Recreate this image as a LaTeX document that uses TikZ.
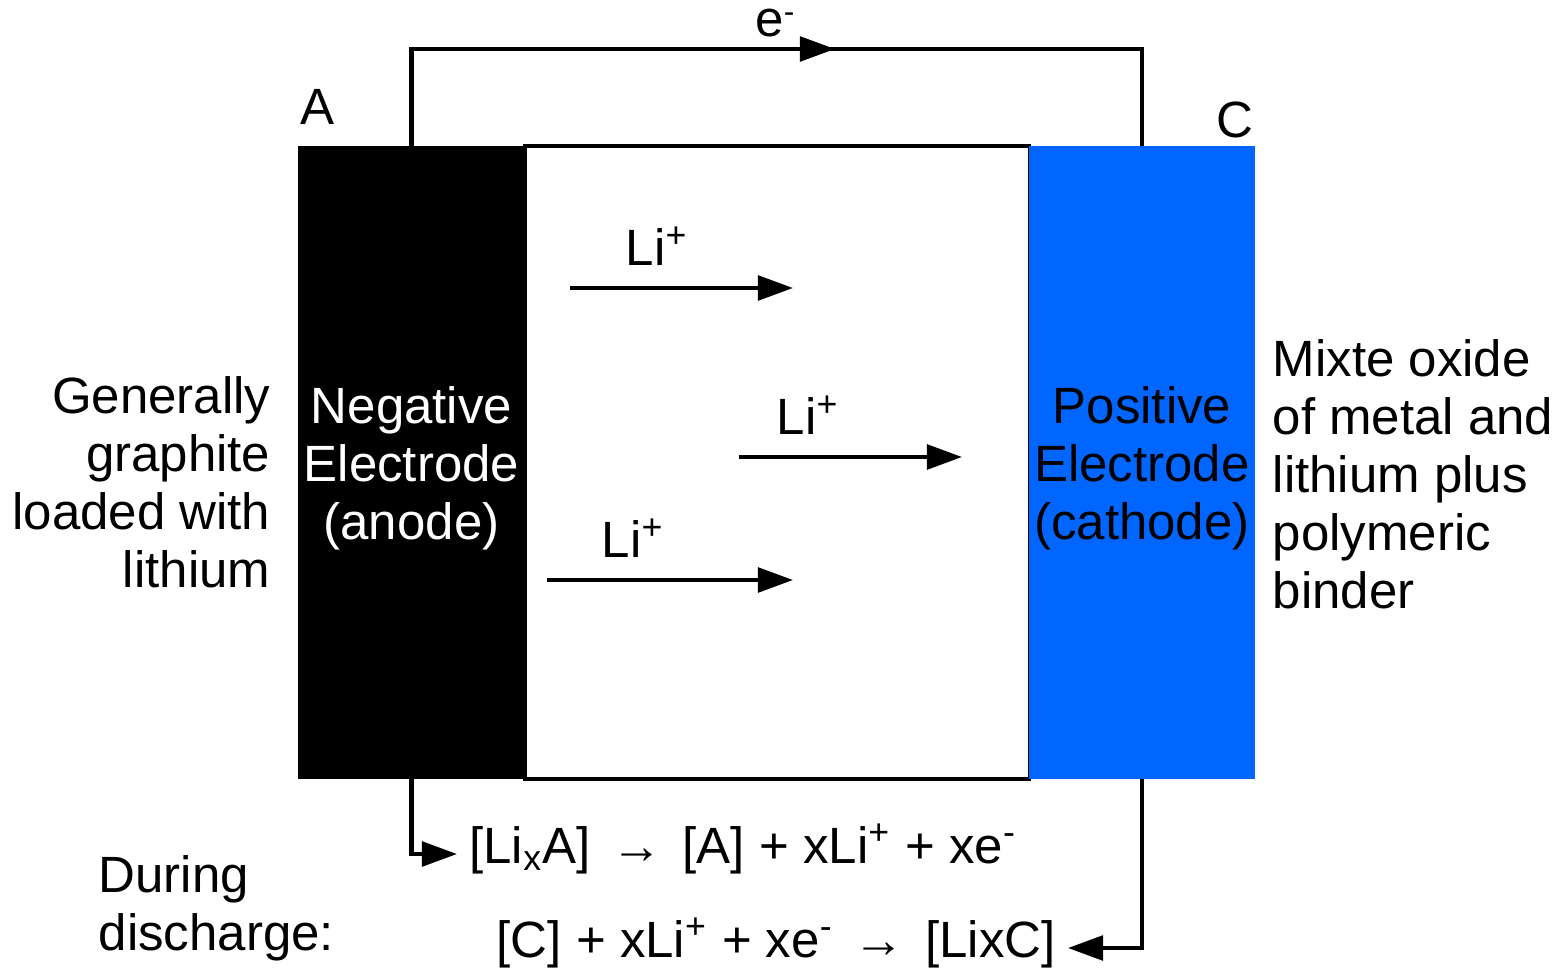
\documentclass[tikz,border=0pt]{standalone}
\usepackage{fontspec}
\setmainfont{Liberation Sans}
\usetikzlibrary{arrows.meta,positioning,decorations.markings}
\definecolor{cathodeblue}{RGB}{0,102,255}

\begin{document}
\begin{tikzpicture}[x=0.01cm, y=-0.01cm, >={Triangle[length=10pt,width=7pt]},
  font=\fontsize{14.5}{16.5}\selectfont,
  electrode/.style={minimum height=6.33cm,inner sep=0pt,outer sep=0pt},
  eltext/.style={align=center,yshift=-1.6pt},
  wire/.style={line width=1.2pt},
  ion/.style={line width=1.2pt,->},
  ionlabel/.style={above=2.4pt},
  note/.style={inner sep=0pt}]
\useasboundingbox (0,0) rectangle (1564,973);
% cell
\node[electrode,fill=black,minimum width=2.27cm,
  label={[eltext,text=white]center:Negative\\Electrode\\(anode)}] (anode) at (411.5,462.5) {};
\node[electrode,draw,line width=1pt,minimum width=5.04cm,right=0pt of anode] (cell) {};
\node[electrode,fill=cathodeblue,minimum width=2.25cm,right=0pt of cell,
  label={[eltext]center:Positive\\Electrode\\(cathode)}] (cathode) {};
\node[anchor=base] (labA) at (317,125) {A};
\node[anchor=base] (labC) at (1235,138) {C};
% external circuit
\coordinate (wtop) at (776,49);
\node[note,anchor=base] (eminus) at (775,37) {e\raisebox{0.55ex}{\fontsize{9}{9}\selectfont -}};
\draw[wire,postaction={decorate},decoration={markings,mark=at position 0.563 with {\arrow{>}}}]
  (anode.north) |- (wtop) -| (cathode.north);
% reactions
\node[anchor=mid west] (eqA) at (457,854) {[Li\textsubscript{x}A]\hspace{0.4em}→\hspace{0.4em}[A] + xLi\textsuperscript{+} + xe\textsuperscript{-}};
\node[anchor=mid east] (eqC) at (1068,948) {[C] + xLi\textsuperscript{+} + xe\textsuperscript{-}\hspace{0.4em}→\hspace{0.4em}[LixC]};
\draw[wire,->] (anode.south) |- (eqA.mid west);
\draw[wire,->] (cathode.south) |- (eqC.mid east);
\node[note,align=left,anchor=west] (during) at (98,908) {During\\discharge:};
% side notes
\node[note,align=right,anchor=east] (graphite) at (271,482) {Generally\\graphite\\loaded with\\lithium};
\node[note,align=left,anchor=west] (oxide) at (1272,474) {Mixte oxide\\of metal and\\lithium plus\\polymeric\\binder};
% lithium ions
\coordinate (i1s) at (570,288); \coordinate (i1e) at (793,288);
\coordinate (i2s) at (739,457); \coordinate (i2e) at (962,457);
\coordinate (i3s) at (547,580); \coordinate (i3e) at (793,580);
\draw[ion] (i1s) -- node[ionlabel,pos=0.39] (li1) {Li\textsuperscript{+}} (i1e);
\draw[ion] (i2s) -- node[ionlabel,pos=0.31] (li2) {Li\textsuperscript{+}} (i2e);
\draw[ion] (i3s) -- node[ionlabel,pos=0.35] (li3) {Li\textsuperscript{+}} (i3e);
\end{tikzpicture}
\end{document}
